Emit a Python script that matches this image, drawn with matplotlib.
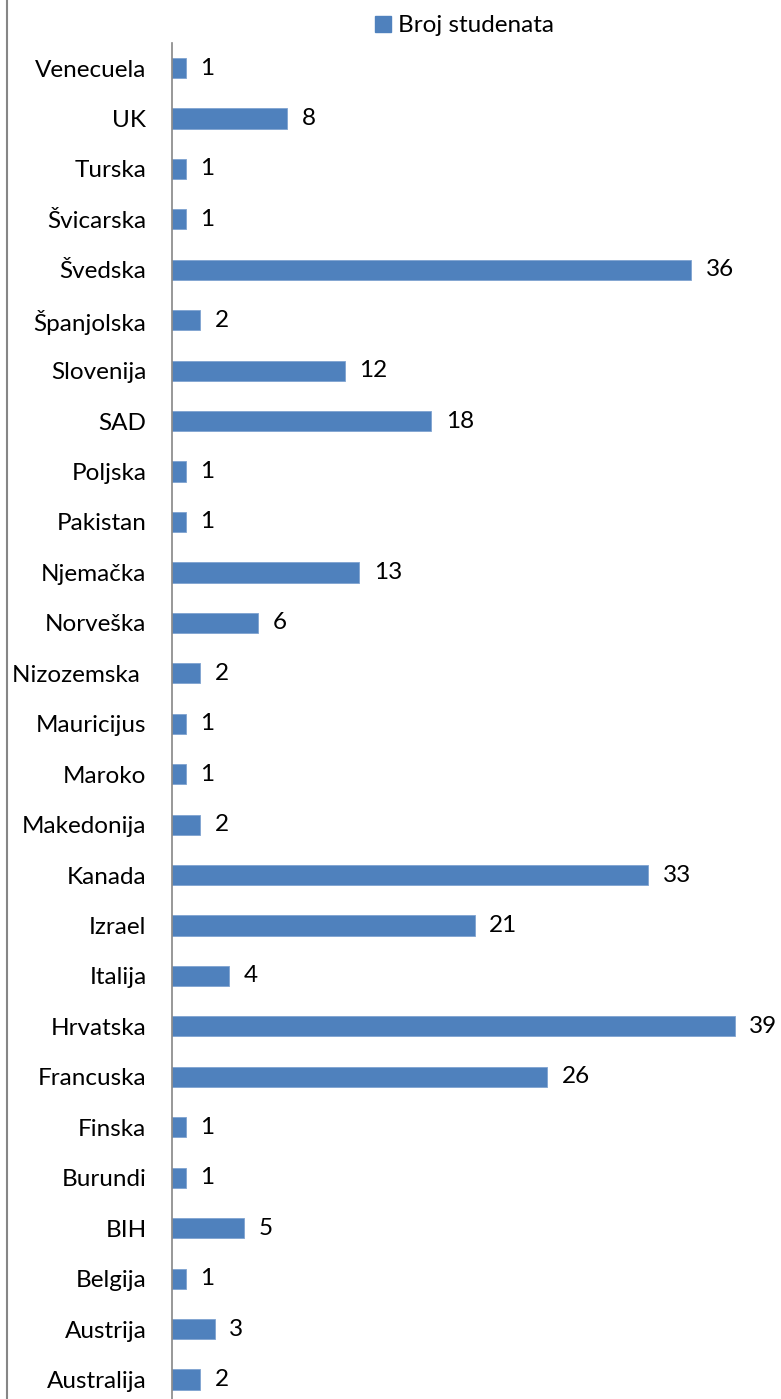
import matplotlib
matplotlib.use("Agg")
import matplotlib.pyplot as plt
from matplotlib.lines import Line2D
from matplotlib.patches import Patch

categories = ["Australija", "Austrija", "Belgija", "BIH", "Burundi", "Finska",
              "Francuska", "Hrvatska", "Italija", "Izrael", "Kanada", "Makedonija",
              "Maroko", "Mauricijus", "Nizozemska ", "Norveška", "Njemačka",
              "Pakistan", "Poljska", "SAD", "Slovenija", "Španjolska", "Švedska",
              "Švicarska", "Turska", "UK", "Venecuela"]
values = [2, 3, 1, 5, 1, 1, 26, 39, 4, 21, 33, 2, 1, 1, 2, 6, 13, 1, 1, 18,
          12, 2, 36, 1, 1, 8, 1]
series_name = "Broj studenata"

W, H = 781, 1399
fig = plt.figure(figsize=(W / 100, H / 100), dpi=100)
plt.rcParams['font.family'] = ['Lato', 'DejaVu Sans']
FS = 17.5

left_px, top_px, bottom_px = 171.5, 42.8, 1404.7
scale = 14.44  # px per unit
ax = fig.add_axes([left_px / W, 1 - bottom_px / H, (W - left_px) / W,
                   (bottom_px - top_px) / H])
ax.set_xlim(0, (W - left_px) / scale)
ax.set_ylim(-0.5, len(categories) - 0.5)

color = "#4F81BD"
ypos = list(range(len(categories)))
ax.barh(ypos, values, height=0.4, color=color, edgecolor="#7FA3D0", linewidth=0.6)

for y, v in zip(ypos, values):
    ax.annotate(str(v), (v, y), xytext=(10.5, 0), textcoords="offset points",
                ha="left", va="center", fontsize=FS, color="black",
                annotation_clip=False)

ax.set_yticks(ypos)
ax.set_yticklabels(categories, fontsize=FS)
ax.tick_params(axis="y", length=0, pad=18)
ax.set_xticks([])
for s in ["top", "right", "bottom"]:
    ax.spines[s].set_visible(False)
ax.spines["left"].set_color("#868686")
ax.spines["left"].set_linewidth(1.2)

# outer frame line at left
fig.add_artist(Line2D([7.5 / W, 7.5 / W], [0, 1], color="#868686", linewidth=1.5))

handle = Patch(facecolor=color, edgecolor=color)
fig.legend([handle], [series_name], loc="center left",
           bbox_to_anchor=(375 / W, 1 - 26 / H), frameon=False, fontsize=FS,
           handlelength=0.66, handleheight=0.66, handletextpad=0.28,
           borderpad=0, borderaxespad=0)

fig.savefig("out.png", dpi=100)
